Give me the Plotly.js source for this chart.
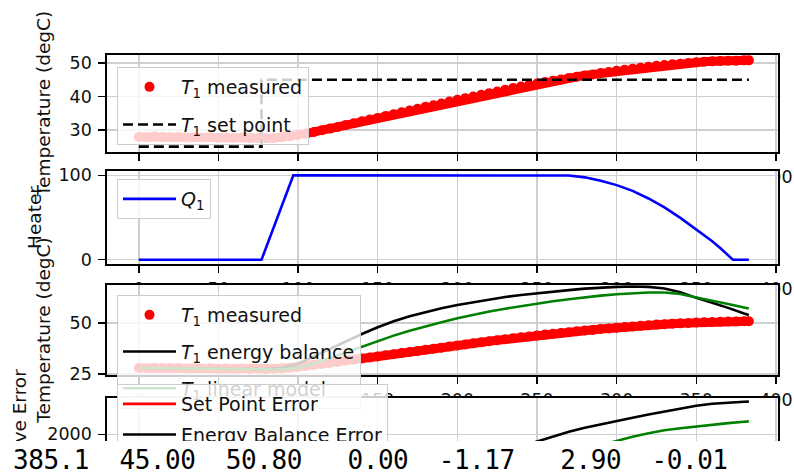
<!DOCTYPE html>
<html>
<head>
<meta charset="utf-8">
<script src="https://cdn.plot.ly/plotly-3.0.1.min.js"></script>
<style>
html, body { margin:0; padding:0; overflow:hidden; background:#fff; width:794px; height:474px; }
#wrap { position:absolute; left:0; top:0; width:794px; height:441px; overflow:hidden; }
#chart { width:794px; height:560px; }
#out { position:absolute; left:0; top:441px; width:794px; height:33px; background:#fff; overflow:hidden; }
#txt { margin:0; position:absolute; left:13px; top:5px; font-family:'DejaVu Sans Mono', monospace; font-size:26px; letter-spacing:-0.45px; line-height:29px; color:#000; white-space:pre; }
</style>
</head>
<body>
<div id="wrap"><div id="chart"></div></div>
<div id="out"><pre id="txt"></pre></div>
<script>
// ---------- data ----------
const time = [0,5,10,15,20,25,30,35,40,45,50,55,60,65,70,75,80,85,90,95,
  100,105,110,115,120,125,130,135,140,145,150,155,160,165,170,175,180,185,190,195,
  200,205,210,215,220,225,230,235,240,245,250,255,260,265,270,275,280,285,290,295,
  300,305,310,315,320,325,330,335,340,345,350,355,360,365,370,375,380,383];
const T1measured = [27.9,27.8,28.0,27.9,27.8,27.9,27.7,27.8,27.7,27.8,
  27.6,27.7,27.6,27.7,27.5,27.6,27.5,27.6,27.8,28.1,
  28.5,28.9,29.4,29.9,30.4,30.9,31.5,32.0,32.6,33.1,
  33.6,34.2,34.7,35.3,35.8,36.3,36.9,37.4,37.9,38.5,
  39.0,39.5,40.0,40.5,41.0,41.5,42.0,42.5,43.0,43.4,
  43.9,44.3,44.7,45.1,45.5,45.9,46.3,46.6,47.0,47.3,
  47.7,48.0,48.3,48.6,48.9,49.2,49.4,49.6,49.8,50.0,
  50.2,50.4,50.5,50.6,50.7,50.7,50.8,50.8];

const spTime = [0, 77, 383];
const spValue = [25, 45, 45];

const qTime  = [0, 77, 97, 260, 270, 280, 290, 300, 310, 320, 330, 340, 350, 360, 365, 370, 373, 383];
const qValue = [0, 0, 100, 100, 99.6, 97.5, 93.5, 88.3, 81.5, 72.5, 62, 49.5, 36, 22, 14, 5, 0, 0];

const modelTime = [0,10,20,30,40,50,60,70,80,90,100,110,120,130,140,150,160,170,180,190,
  200,210,220,230,240,250,260,270,280,290,300,310,320,330,340,350,360,370,380,383];
const T1energy = [27.9,27.8,27.8,27.7,27.6,27.6,27.5,27.4,27.4,28.0,
  30.0,33.6,37.3,41.0,44.6,47.9,50.8,53.3,55.4,57.2,
  58.8,60.2,61.5,62.7,63.7,64.6,65.4,66.1,66.8,67.3,
  67.7,67.9,67.7,66.9,65.0,62.3,60.0,57.4,54.6,53.9];
const T1linear = [27.9,27.8,27.7,27.6,27.5,27.4,27.3,27.2,27.1,27.2,
  28.0,30.0,32.8,35.6,38.5,41.3,43.8,46.2,48.4,50.4,
  52.3,54.0,55.6,57.0,58.3,59.5,60.6,61.6,62.6,63.4,
  64.1,64.6,64.9,64.9,64.2,62.5,61.0,59.3,57.6,57.1];

const errSetPoint = [0,28,56,84,112,140,168,196,240,400,
  560,710,850,970,1080,1170,1250,1310,1360,1400,
  1430,1455,1475,1490,1500,1507,1512,1516,1521,1528,
  1537,1547,1557,1567,1577,1586,1594,1601,1607,1609];
const errEnergy = [0,1,2,3,4,5,6,7,8,9,
  10,25,60,110,180,270,380,500,630,770,
  920,1080,1250,1420,1590,1760,1930,2090,2230,2350,
  2460,2570,2680,2780,2890,2985,3050,3095,3120,3125];
const errLinear = [0,1,2,3,4,5,6,7,8,9,
  12,14,20,32,55,85,125,180,250,335,
  430,535,650,770,900,1035,1180,1330,1480,1630,
  1780,1920,2040,2140,2210,2275,2330,2385,2435,2445];

const xTicks = [0,50,100,150,200,250,300,350,400];
const y1Ticks = [30,40,50];
const y2Ticks = [0,100];
const y3Ticks = [25,50];
const y4Ticks = [0,2000];

const statusValues = ['385.1','45.00','50.80','0.00','-1.17','2.90','-0.01'];

// ---------- layout helpers ----------
const H = 560;
function dom(top, bottom){ return [(H-bottom)/H, (H-top)/H]; }
const xRange = [-20, 401.3];
const y1Range = [23.4, 52.4];
const y2Range = [-5, 105];
const y3Range = [24.5, 68.6];
const y4Range = [-155, 3250];

const FONT = 'DejaVu Sans, sans-serif';
const tickFont = {family: FONT, size: 17.5, color: '#111'};
const titleFont = {family: FONT, size: 18.5, color: '#111'};

function xax(anchor, showLabels){
  return {anchor: anchor, range: xRange, tickvals: xTicks, ticks: 'outside', ticklen: 7, tickwidth: 1.4,
    tickcolor: '#000', showline: true, linewidth: 1.6, linecolor: '#000', mirror: true,
    showgrid: true, gridcolor: '#cfcfcf', gridwidth: 1.3, zeroline: false, tickfont: tickFont,
    ticklabelstandoff: 1, automargin: false, showticklabels: showLabels};
}
function yax(anchor, domain, range, ticks, title, standoff){
  return {anchor: anchor, domain: domain, range: range, tickvals: ticks, ticks: 'outside', ticklen: 7,
    tickwidth: 1.4, tickcolor: '#000', showline: true, linewidth: 1.6, linecolor: '#000', mirror: true,
    showgrid: true, gridcolor: '#cfcfcf', gridwidth: 1.3, zeroline: false, tickfont: tickFont,
    ticklabelstandoff: 3, automargin: false,
    title: {text: title, font: titleFont, standoff: standoff}};
}

const T1 = '<i>T</i><sub>1</sub>';
const band = {color: '#ff0000', width: 9};
const traces = [
  {x: time, y: T1measured, type: 'scatter', mode: 'lines', line: band, showlegend: false,
   hoverinfo: 'skip', xaxis: 'x', yaxis: 'y', legend: 'legend'},
  {x: time, y: T1measured, type: 'scatter', mode: 'markers', name: T1 + ' measured',
   marker: {color: '#ff0000', size: 10}, xaxis: 'x', yaxis: 'y', legend: 'legend', legendgroup: 'a1'},
  {x: spTime, y: spValue, type: 'scatter', mode: 'lines', name: T1 + ' set point',
   line: {color: '#000', width: 2.6, dash: '10px,5px', shape: 'hv'}, xaxis: 'x', yaxis: 'y', legend: 'legend', legendgroup: 'a2'},

  {x: qTime, y: qValue, type: 'scatter', mode: 'lines', name: '<i>Q</i><sub>1</sub>',
   line: {color: '#0000ff', width: 2.6}, xaxis: 'x2', yaxis: 'y2', legend: 'legend2', legendgroup: 'b1'},

  {x: time, y: T1measured, type: 'scatter', mode: 'lines', line: band, showlegend: false,
   hoverinfo: 'skip', xaxis: 'x3', yaxis: 'y3', legend: 'legend3'},
  {x: time, y: T1measured, type: 'scatter', mode: 'markers', name: T1 + ' measured',
   marker: {color: '#ff0000', size: 10}, xaxis: 'x3', yaxis: 'y3', legend: 'legend3', legendgroup: 'c1'},
  {x: modelTime, y: T1energy, type: 'scatter', mode: 'lines', name: T1 + ' energy balance',
   line: {color: '#000', width: 2.6}, xaxis: 'x3', yaxis: 'y3', legend: 'legend3', legendgroup: 'c2'},
  {x: modelTime, y: T1linear, type: 'scatter', mode: 'lines', name: T1 + ' linear model',
   line: {color: '#008000', width: 2.6}, xaxis: 'x3', yaxis: 'y3', legend: 'legend3', legendgroup: 'c3'},

  {x: modelTime, y: errSetPoint, type: 'scatter', mode: 'lines', name: 'Set Point Error',
   line: {color: '#ff0000', width: 2.6}, xaxis: 'x4', yaxis: 'y4', legend: 'legend4', legendgroup: 'd1'},
  {x: modelTime, y: errEnergy, type: 'scatter', mode: 'lines', name: 'Energy Balance Error',
   line: {color: '#000', width: 2.6}, xaxis: 'x4', yaxis: 'y4', legend: 'legend4', legendgroup: 'd2'},
  {x: modelTime, y: errLinear, type: 'scatter', mode: 'lines', name: 'Linear Model Error',
   line: {color: '#008000', width: 2.6}, xaxis: 'x4', yaxis: 'y4', legend: 'legend4', legendgroup: 'd3'}
];

function legendAt(py, gap){
  return {x: (117-107)/671, y: (H-py)/H, xanchor: 'left', yanchor: 'top',
    bgcolor: 'rgba(255,255,255,0.8)', bordercolor: '#cccccc', borderwidth: 1,
    font: {family: FONT, size: 19, color: '#111'}, tracegroupgap: gap, itemwidth: 53};
}
function mask(xr, yr, yRange){
  return {type: 'rect', xref: xr, yref: yr, x0: xRange[0], x1: xRange[1], y0: yRange[0], y1: yRange[1],
    fillcolor: '#ffffff', line: {width: 0}, layer: 'below'};
}

const layout = {
  width: 794, height: H, autosize: false,
  margin: {l: 107, r: 16, t: 0, b: 0, pad: 0, autoexpand: false},
  paper_bgcolor: '#fff', plot_bgcolor: '#fff',
  showlegend: true,
  xaxis: xax('y', true), xaxis2: xax('y2', true), xaxis3: xax('y3', true), xaxis4: xax('y4', false),
  yaxis: yax('x', dom(55,152), y1Range, y1Ticks, 'Temperature (degC)', 14),
  yaxis2: yax('x2', dom(171,264), y2Range, y2Ticks, 'Heater', 12),
  yaxis3: yax('x3', dom(285,375), y3Range, y3Ticks, 'Temperature (degC)', 14),
  yaxis4: yax('x4', dom(398,497), y4Range, y4Ticks, 'Cumulative Error', 16),
  legend: legendAt(67, 10),
  legend2: legendAt(179, 0),
  legend3: legendAt(295, 9),
  legend4: legendAt(384, 3),
  shapes: [mask('x2','y2',y2Range), mask('x3','y3',y3Range), mask('x4','y4',y4Range)]
};

Plotly.newPlot('chart', traces, layout, {displayModeBar: false, staticPlot: true});

const widths = [5,7,7,7,7,7,7];
document.getElementById('txt').textContent = statusValues.map((v,i) => v.padStart(widths[i])).join('');
</script>
</body>
</html>
